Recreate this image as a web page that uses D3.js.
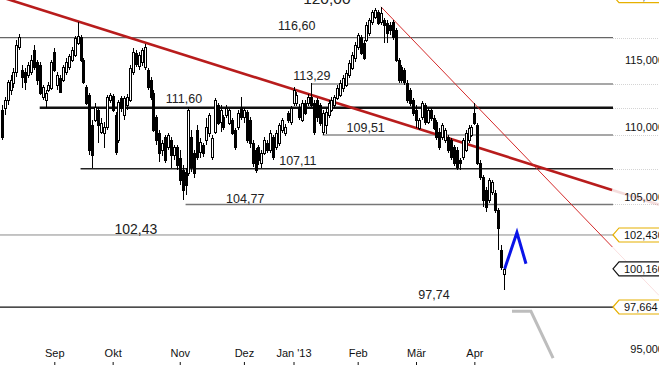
<!DOCTYPE html>
<html>
<head>
<meta charset="utf-8">
<script src="https://cdn.jsdelivr.net/npm/d3@7"></script>
<style>
  html, body { margin: 0; padding: 0; background: #fff; }
  svg { display: block; font-family: "Liberation Sans", Arial, sans-serif; }
</style>
</head>
<body>
<svg id="chart" width="659" height="368"></svg>
<script>
'use strict';

// Daily candles, 08.08.2012 - 16.04.2013 (one value per trading day)
var open = [
    111.26, 111.41, 112.00, 112.75, 113.27, 114.10, 115.99, 114.25, 114.10, 113.87,
    114.10, 115.77, 114.86, 114.63, 112.22, 112.00, 112.75, 112.90, 115.62, 113.12,
    113.64, 113.49, 114.10, 114.48, 115.01, 115.39, 116.31, 116.77, 115.01, 112.97,
    112.37, 110.16, 110.53, 111.26, 109.66, 109.58, 110.02, 112.00, 112.30, 110.90,
    109.08, 112.15, 110.90, 111.63, 112.00, 114.10, 115.54, 114.55, 114.86, 114.48,
    114.25, 113.49, 112.52, 110.75, 109.58, 108.36, 109.29, 108.57, 109.08, 108.00,
    108.57, 107.79, 106.93, 106.79, 106.72, 109.29, 108.14, 109.80, 108.22, 108.72,
    109.08, 109.58, 107.86, 109.66, 111.63, 110.38, 110.75, 110.90, 110.31, 110.53,
    109.80, 110.02, 111.48, 110.75, 111.11, 110.53, 108.86, 108.36, 108.57, 107.43,
    108.14, 108.86, 108.36, 109.29, 108.57, 108.86, 109.80, 109.58, 111.04, 110.38,
    111.78, 111.78, 111.48, 110.53, 111.78, 111.78, 112.22, 111.78, 112.00, 111.63,
    109.66, 110.16, 110.90, 111.26, 111.63, 112.15, 112.37, 112.90, 113.12, 113.87,
    114.40, 115.16, 116.00, 116.77, 116.31, 116.54, 117.08, 117.93, 118.33, 118.72,
    117.93, 118.09, 117.86, 117.70, 117.93, 117.31, 115.01, 114.48, 114.25, 113.27,
    112.75, 112.00, 111.26, 109.95, 110.75, 111.63, 110.38, 111.26, 110.68, 110.38,
    109.66, 109.29, 109.08, 109.29, 109.08, 108.57, 108.36, 107.64, 107.86, 108.36,
    109.08, 109.44, 111.04, 110.16, 107.43, 106.44, 105.53, 104.83, 105.39, 105.32,
    104.14, 101.42, 99.82
];
var high = [
    111.63, 112.22, 113.49, 113.87, 114.40, 116.54, 117.00, 114.63, 114.40, 114.86,
    115.39, 116.15, 115.01, 114.86, 113.12, 112.75, 113.34, 115.01, 115.92, 114.10,
    113.87, 114.63, 115.16, 115.47, 116.00, 116.84, 117.93, 116.92, 115.16, 113.12,
    112.52, 110.53, 111.78, 111.48, 110.68, 110.38, 112.37, 112.52, 112.45, 111.11,
    112.00, 112.30, 112.30, 112.45, 114.63, 115.92, 115.77, 115.62, 115.92, 116.23,
    114.40, 113.72, 112.75, 110.90, 109.80, 109.08, 109.44, 109.58, 109.29, 108.72,
    108.72, 108.36, 107.29, 107.07, 111.48, 109.80, 108.36, 110.16, 109.22, 108.86,
    110.68, 111.04, 109.44, 112.15, 111.78, 111.63, 110.90, 111.63, 111.41, 110.68,
    109.95, 111.26, 112.22, 111.41, 111.26, 110.75, 109.08, 108.50, 108.72, 108.36,
    109.29, 109.08, 109.80, 109.44, 109.80, 110.31, 110.68, 110.24, 111.19, 111.56,
    112.97, 112.60, 111.70, 112.00, 112.00, 112.45, 113.27, 112.00, 112.15, 111.78,
    111.26, 111.41, 112.00, 112.22, 112.37, 113.12, 113.49, 113.87, 114.25, 115.01,
    115.62, 116.38, 117.08, 116.92, 116.54, 117.93, 118.25, 118.88, 119.04, 118.88,
    119.12, 118.25, 118.09, 117.93, 118.09, 117.47, 115.16, 114.63, 114.40, 113.49,
    112.90, 112.15, 111.63, 110.68, 111.93, 111.78, 111.41, 111.41, 110.90, 110.53,
    109.95, 110.31, 109.95, 109.44, 109.22, 108.72, 108.57, 107.79, 109.22, 109.80,
    110.16, 110.16, 111.78, 110.31, 107.64, 106.58, 105.74, 106.37, 106.23, 105.53,
    104.28, 101.75, 100.21
];
var low = [
    109.08, 110.90, 111.63, 112.37, 112.90, 113.72, 115.77, 112.90, 112.75, 113.64,
    113.87, 114.25, 113.12, 112.37, 112.00, 111.41, 112.60, 112.75, 114.10, 112.75,
    112.52, 113.34, 113.87, 114.25, 114.86, 115.24, 116.15, 114.86, 113.19, 111.63,
    108.00, 107.07, 110.38, 108.86, 109.51, 108.50, 109.80, 111.78, 111.11, 108.00,
    108.86, 111.11, 110.53, 111.26, 111.85, 113.87, 114.48, 114.25, 114.55, 114.25,
    112.75, 112.00, 109.66, 108.72, 107.50, 107.93, 107.43, 108.36, 107.07, 107.64,
    106.93, 105.88, 104.83, 105.18, 106.51, 106.79, 106.37, 107.64, 107.79, 107.86,
    108.72, 109.29, 107.64, 109.51, 110.16, 109.66, 109.80, 110.68, 110.16, 109.44,
    108.36, 109.80, 110.53, 110.31, 108.86, 108.50, 107.14, 106.72, 107.29, 107.07,
    108.00, 108.14, 108.14, 107.64, 108.36, 108.65, 109.58, 109.36, 110.31, 110.16,
    111.56, 111.56, 110.53, 110.38, 110.90, 111.56, 111.48, 109.44, 110.38, 110.09,
    109.44, 109.51, 110.68, 111.11, 111.41, 112.00, 112.22, 112.60, 112.97, 113.64,
    114.25, 114.86, 115.77, 115.39, 115.01, 116.38, 116.84, 117.70, 118.17, 117.70,
    117.70, 116.31, 116.31, 116.92, 116.54, 114.86, 113.27, 113.27, 113.12, 111.78,
    111.56, 110.83, 109.95, 109.80, 110.53, 110.16, 110.24, 110.46, 109.80, 109.08,
    108.36, 109.08, 108.86, 108.14, 107.64, 107.21, 106.93, 106.93, 107.64, 108.22,
    108.86, 109.29, 110.16, 107.29, 106.23, 104.35, 104.00, 104.62, 105.18, 103.93,
    101.42, 100.08, 98.76
];
var close = [
    109.29, 112.00, 113.34, 113.49, 114.10, 116.15, 116.77, 113.72, 113.34, 114.63,
    115.01, 114.48, 113.49, 112.52, 112.97, 112.52, 113.12, 114.86, 114.25, 113.87,
    112.60, 114.48, 114.86, 115.31, 115.77, 116.69, 116.84, 115.01, 113.34, 111.78,
    108.36, 108.00, 111.48, 110.16, 110.31, 110.02, 112.22, 112.37, 111.26, 108.22,
    111.85, 111.41, 112.15, 112.22, 114.40, 115.62, 114.71, 115.39, 115.77, 116.00,
    112.97, 112.22, 109.80, 109.08, 108.14, 108.86, 107.64, 109.44, 108.00, 108.57,
    107.29, 106.23, 105.53, 105.88, 111.26, 107.14, 106.72, 107.86, 108.93, 108.14,
    110.02, 110.90, 109.22, 112.00, 110.31, 111.26, 110.02, 111.41, 111.26, 109.58,
    108.57, 111.04, 110.75, 111.26, 109.08, 108.86, 107.43, 106.93, 107.64, 108.14,
    109.08, 108.36, 109.58, 107.86, 109.58, 110.16, 110.53, 110.02, 110.53, 111.41,
    112.75, 112.37, 110.75, 111.78, 111.04, 112.22, 111.63, 109.66, 110.75, 110.31,
    111.04, 111.11, 111.78, 112.00, 112.22, 112.90, 113.27, 113.64, 114.02, 114.78,
    115.39, 116.15, 116.92, 115.54, 115.16, 117.70, 118.09, 118.72, 118.88, 117.86,
    118.64, 117.70, 117.08, 117.31, 116.77, 115.01, 113.49, 113.49, 113.34, 112.00,
    111.78, 111.04, 110.53, 110.53, 111.78, 110.38, 111.26, 110.68, 109.95, 109.29,
    108.57, 110.16, 109.80, 108.36, 107.86, 107.43, 107.14, 107.43, 109.08, 109.58,
    109.95, 110.02, 110.31, 107.43, 106.44, 104.83, 104.35, 106.23, 106.09, 104.14,
    102.91, 100.28, 100.16
];

// Exchange holidays inside the period
var holidays = ['2012-12-24', '2012-12-25', '2012-12-26', '2012-12-31',
                '2013-01-01', '2013-03-29', '2013-04-01'];

var monthLabels = ['Sep', 'Okt', 'Nov', 'Dez', 'Jan \'13', 'Feb', 'Mär', 'Apr'];
var axisValues = [95, 105, 110, 115];

// Horizontal levels: drawn value, label text, first trading day, day where label starts
var levelValues = [116.72, 113.19, 111.43, 109.44, 107.02, 104.52, 102.43, 97.66];
var levelLabels = ['116,60', '113,29', '111,60', '109,51', '107,11', '104,77', '102,43', '97,74'];
var levelStart = [-1, 106, 13, 110, 27, 63, -1, -1];
var labelDay = [94.7, 99.9, 56.2, 118.2, 95.1, 76.9, 38.6, 142.8];

// Price tags on the right axis
var tagValues = [120.00, 102.43, 100.16, 97.664];
var tagLabels = ['120,000', '102,430', '100,160', '97,664'];
var tagIsLast = [false, false, true, false];

// Target label at the top
var targetValue = 120.00, targetLabel = '120,00', targetDay = 103.3;

// Trend lines (day index, price)
var trendDays = [0, 209.2], trendPrices = [119.87, 105.53];
var steepDays = [130, 209.3], steepPrices = [119.12, 101.62];

// Projections
var upDays = [172.4, 176.6, 179.7], upPrices = [100.16, 102.60, 100.50];
var downDays = [174.9, 181.4, 189.0], downPrices = [97.39, 97.39, 94.42];


var W = 659,
    H = 368,
    PLOT_RIGHT = 613,
    STEP = 2.917,   // pixels per trading day
    X0 = 1.8;       // centre of the first candle

var svg = d3.select('#chart');

var x = d3.scaleLinear().domain([0, 1]).range([X0, X0 + STEP]);
var y = d3.scaleLog().domain([93.8, 119.66]).range([H, 0]);


// Trading days
function tradingDays() {
    var fmt = d3.timeFormat('%Y-%m-%d'),
        days = [],
        d = new Date(2012, 7, 8),
        end = new Date(2013, 3, 16);
    while (d <= end) {
        var wd = d.getDay();
        if (wd !== 0 && wd !== 6 && holidays.indexOf(fmt(d)) < 0) {
            days.push(new Date(d));
        }
        d.setDate(d.getDate() + 1);
    }
    return days;
}

var days = tradingDays();

var candles = days.map(function (day, i) {
    return { i: i, date: day, o: open[i], h: high[i], l: low[i], c: close[i] };
});


function priceText(v, digits) {
    return v.toFixed(digits).replace('.', ',');
}


svg.append('rect')
    .attr('width', W)
    .attr('height', H)
    .attr('fill', '#fff');

svg.append('clipPath')
    .attr('id', 'plot-clip')
    .append('rect')
    .attr('x', 0)
    .attr('y', 0)
    .attr('width', PLOT_RIGHT)
    .attr('height', H);


function drawLevels() {
    var colors = ['#666', '#8a8a8a', '#111', '#8a8a8a', '#222', '#777', '#8a8a8a', '#111'],
        widths = [1.4, 1.4, 2.4, 1.4, 1.4, 1.4, 1, 1.2],
        lift = [8, 4, 4.7, 3, 3.8, 1.5, 1, 8];

    var g = svg.append('g').attr('class', 'levels');

    // faint dotted continuation into the axis area
    g.selectAll('line.ext')
        .data(levelValues.slice(0, 6))
        .enter()
        .append('line')
        .attr('class', 'ext')
        .attr('x1', PLOT_RIGHT)
        .attr('x2', W)
        .attr('y1', function (d) { return Math.round(y(d)) + 0.5; })
        .attr('y2', function (d) { return Math.round(y(d)) + 0.5; })
        .attr('stroke', '#d4d4d4')
        .attr('stroke-dasharray', '1,1');

    g.selectAll('line.level')
        .data(levelValues)
        .enter()
        .append('line')
        .attr('class', 'level')
        .attr('x1', function (d, i) { return levelStart[i] < 0 ? 0 : x(levelStart[i]); })
        .attr('x2', PLOT_RIGHT)
        .attr('y1', function (d) { return y(d); })
        .attr('y2', function (d) { return y(d); })
        .attr('stroke', function (d, i) { return colors[i]; })
        .attr('stroke-width', function (d, i) { return widths[i]; });

    g.selectAll('text')
        .data(levelLabels)
        .enter()
        .append('text')
        .attr('x', function (d, i) { return x(labelDay[i]); })
        .attr('y', function (d, i) { return y(levelValues[i]) - lift[i]; })
        .attr('font-size', function (d) { return d === '102,43' ? 14 : 12.5; })
        .attr('fill', '#222')
        .text(function (d) { return d; });

    svg.append('text')
        .attr('x', x(targetDay))
        .attr('y', y(targetValue) + 8)
        .attr('font-size', 15.5)
        .attr('fill', '#222')
        .text(targetLabel);
}


function drawTrend(dayPair, pricePair, color, width) {
    var x1 = x(dayPair[0]), y1 = y(pricePair[0]),
        x2 = x(dayPair[1]), y2 = y(pricePair[1]),
        slope = (y2 - y1) / (x2 - x1);

    svg.append('line')
        .attr('x1', x1).attr('y1', y1)
        .attr('x2', x2).attr('y2', y2)
        .attr('stroke', color)
        .attr('stroke-width', width);

    // pale continuation beyond the price area
    svg.append('line')
        .attr('x1', x2).attr('y1', y2)
        .attr('x2', W).attr('y2', y2 + (W - x2) * slope)
        .attr('stroke', color)
        .attr('stroke-opacity', 0.15)
        .attr('stroke-width', width);
}


function drawCandles() {
    var g = svg.append('g')
        .attr('class', 'candles')
        .attr('clip-path', 'url(#plot-clip)')
        .attr('shape-rendering', 'crispEdges');

    var c = g.selectAll('g')
        .data(candles)
        .enter()
        .append('g');

    c.append('line')
        .attr('x1', function (d) { return Math.round(x(d.i)) + 0.5; })
        .attr('x2', function (d) { return Math.round(x(d.i)) + 0.5; })
        .attr('y1', function (d) { return Math.round(y(d.h)); })
        .attr('y2', function (d) { return Math.round(y(d.l)); })
        .attr('stroke', '#000');

    c.append('rect')
        .attr('x', function (d) { return Math.round(x(d.i)) - 0.5; })
        .attr('width', 2)
        .attr('y', function (d) { return Math.round(y(Math.max(d.o, d.c))) + 0.5; })
        .attr('height', function (d) {
            return Math.max(1, Math.round(y(Math.min(d.o, d.c))) - Math.round(y(Math.max(d.o, d.c))));
        })
        .attr('fill', function (d) { return d.c >= d.o ? '#fff' : '#000'; })
        .attr('stroke', '#000');
}


function drawProjection(dayList, priceList, color) {
    var line = d3.line()
        .x(function (d) { return x(d); })
        .y(function (d, i) { return y(priceList[i]); });

    svg.append('path')
        .attr('d', line(dayList))
        .attr('fill', 'none')
        .attr('stroke', color)
        .attr('stroke-width', 3)
        .attr('stroke-linejoin', 'miter');
}


function drawPriceAxis() {
    svg.append('g')
        .selectAll('text')
        .data(axisValues)
        .enter()
        .append('text')
        .attr('x', 664)
        .attr('y', function (d) { return y(d); })
        .attr('dy', '0.35em')
        .attr('text-anchor', 'end')
        .attr('font-size', 11)
        .attr('fill', '#111')
        .text(function (d) { return priceText(d, 3); });

    var tags = svg.append('g')
        .selectAll('g')
        .data(tagValues)
        .enter()
        .append('g')
        .attr('transform', function (d) { return 'translate(0,' + y(d) + ')'; });

    tags.append('path')
        .attr('d', 'M' + PLOT_RIGHT + ',0L' + (PLOT_RIGHT + 6) + ',-7L' + (W + 5) + ',-7L' + (W + 5) + ',7L' + (PLOT_RIGHT + 6) + ',7Z')
        .attr('fill', '#fff')
        .attr('stroke', function (d, i) { return tagIsLast[i] ? '#111' : '#e6b000'; })
        .attr('stroke-width', 1.2);

    tags.append('text')
        .attr('x', PLOT_RIGHT + 11)
        .attr('dy', '0.36em')
        .attr('font-size', 11)
        .attr('fill', '#111')
        .text(function (d, i) { return tagLabels[i]; });
}


function drawTimeAxis() {
    var ticks = [];
    days.forEach(function (d, i) {
        if (i > 0 && d.getMonth() !== days[i - 1].getMonth()) {
            ticks.push(i);
        }
    });

    var axis = d3.axisTop(x)
        .tickValues(ticks)
        .tickSize(3)
        .tickPadding(5)
        .tickFormat(function (d, i) { return monthLabels[i]; });

    var g = svg.append('g')
        .attr('transform', 'translate(0,365)')
        .call(axis);

    g.select('.domain').remove();
    g.selectAll('text')
        .attr('font-family', '"Liberation Sans", Arial, sans-serif')
        .attr('font-size', 11)
        .attr('fill', '#111');
    g.selectAll('line').attr('stroke', '#111');
}


drawLevels();
drawTrend(trendDays, trendPrices, '#b81c1c', 2.6);
drawTrend(steepDays, steepPrices, '#d42a2a', 1);
drawCandles();
drawProjection(upDays, upPrices, '#0a14e8');
drawProjection(downDays, downPrices, '#bdbdbd');
drawPriceAxis();
drawTimeAxis();
</script>
</body>
</html>
